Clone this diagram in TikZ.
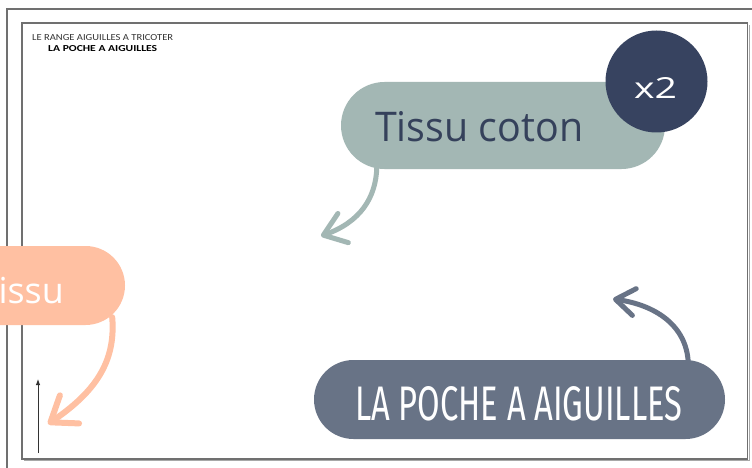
\documentclass[tikz,border=0pt]{standalone}
\usepackage{fontspec}
\setmainfont{Open Sans}
\newfontfamily\hdrfont{Carlito}
\newfontfamily\cndfont{Fira Sans}
\usetikzlibrary{arrows.meta,calc}
\definecolor{sage}{HTML}{A3B7B4}
\definecolor{navy}{HTML}{374360}
\definecolor{navytext}{HTML}{35415B}
\definecolor{peach}{HTML}{FFC0A2}
\definecolor{slate}{HTML}{687386}
\definecolor{framegray}{HTML}{707070}
\definecolor{shadowgray}{HTML}{A8A8A8}
\begin{document}
\begin{tikzpicture}[x=1pt,y=-1pt,
  pillbox/.style={rectangle, inner sep=0pt, draw=none},
  txt/.style={inner sep=0pt, anchor=base west},
  callout/.style={line width=5pt, line cap=round, line join=round}]
\useasboundingbox (0,0) rectangle (752,468);
\clip (0,0) rectangle (752,468);
\fill[white] (0,0) rectangle (752,468);
% frames
\draw[framegray, line width=1.5pt] (7,470) -- (7,9) -- (760,9);
\draw[shadowgray, line width=1.5pt] (24,460.5) -- (749.5,460.5) -- (749.5,25);
\draw[framegray, line width=1.3pt] (22,23) rectangle (747.5,459);
% header
\node[txt, text=black!80] (hdrA) at (32,41) {\hdrfont\resizebox{141pt}{6pt}{LE RANGE AIGUILLES A TRICOTER}};
\node[txt, text=black] (hdrB) at (48,52) {\hdrfont\bfseries\resizebox{109pt}{6pt}{LA POCHE A AIGUILLES}};
% sage pill
\node[pillbox, fill=sage, minimum width=324pt, minimum height=87pt, rounded corners=43.5pt] (sagepill) at (503,125.5) {};
\node[txt, text=navytext] (sagetext) at (375,142) {\resizebox{208pt}{30pt}{Tissu coton}};
\node[circle, fill=navy, minimum size=102pt, inner sep=0pt] (badge) at (656.5,81.5) {};
\node[inner sep=0pt, anchor=base, text=white] (badgetext) at (655.5,99) {\resizebox{43pt}{21pt}{x2}};
% peach pill
\node[pillbox, fill=peach, minimum width=300pt, minimum height=79pt, rounded corners=39.5pt] (peachpill) at (-25,285.5) {};
\node[inner sep=0pt, anchor=base east, text=white] (peachtext) at (64,303) {\resizebox{85pt}{!}{Tissu}};
% slate pill
\node[pillbox, fill=slate, minimum width=411pt, minimum height=79pt, rounded corners=39.5pt] (slatepill) at (519.5,399.5) {};
\node[txt, text=white] (slatetext) at (355,420) {\cndfont\resizebox{327pt}{34pt}{LA POCHE A AIGUILLES}};
% arrow targets
\coordinate (sagetip) at (321,236);
\coordinate (peachtip) at (48,424);
\coordinate (slatetip) at (613,299);
\coordinate (smalltop) at (38,379);
\coordinate (smallbottom) at (38,453);
% arrows
\draw[callout, sage, -{Straight Barb[length=21pt,width=31pt,round]}]
  ($(sagepill.south west)+(36,-2)$) .. controls (376,198) and (360,222) .. (sagetip);
\draw[callout, peach, line width=6pt, -{Straight Barb[length=23pt,width=34pt,round]}]
  ($(peachpill.south east)+(-13,-8)$) .. controls (116,362) and (95,392) .. (peachtip);
\draw[callout, slate, -{Straight Barb[length=19pt,width=27pt,round]}]
  ($(slatepill.north east)+(-37,2)$) .. controls (686,325) and (655,305) .. (slatetip);
\draw[black!80, line width=1pt, -{Latex[length=6pt,width=4.5pt]}] (smallbottom) -- (smalltop);
\end{tikzpicture}
\end{document}
